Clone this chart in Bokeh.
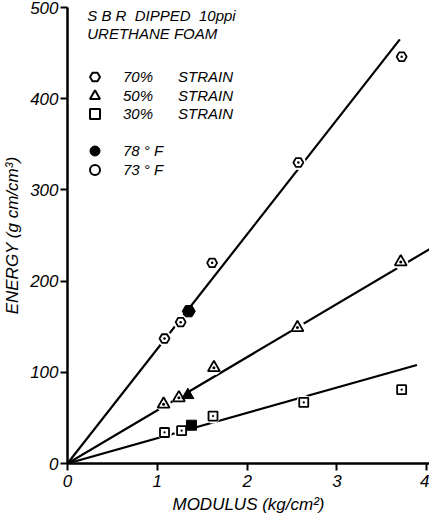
from bokeh.plotting import figure
from bokeh.models import Range1d, FixedTicker, Legend, LegendItem, Label
from bokeh.embed import file_html
from bokeh.resources import INLINE

# ---- data ----
modulus_70 = [1.08, 1.26, 1.61, 2.57, 3.72]
energy_70 = [137, 155, 220, 330, 446]
modulus_50 = [1.07, 1.24, 1.63, 2.56, 3.71]
energy_50 = [65, 72, 105, 149, 221]
modulus_30 = [1.08, 1.27, 1.62, 2.63, 3.72]
energy_30 = [34, 36, 52, 67, 81]
# 78 F points (filled): 70 %, 50 %, 30 % strain
modulus_78 = [1.35, 1.34, 1.38]
energy_78 = [167, 75, 42]
# fitted straight lines through the origin
fit_x_70 = [0, 3.70]
fit_y_70 = [0, 465]
fit_x_50 = [0, 4.03]
fit_y_50 = [0, 235]
fit_x_30 = [0, 3.89]
fit_y_30 = [0, 108]
x_ticks = [0, 1, 2, 3, 4]
y_ticks = [0, 100, 200, 300, 400, 500]

FONT = "Liberation Sans"

p = figure(width=429, height=522, x_range=Range1d(0, 4.03), y_range=Range1d(0, 500),
           output_backend="svg", toolbar_location=None,
           min_border_left=64, min_border_right=0, min_border_top=7, min_border_bottom=59)
p.outline_line_color = None
p.grid.visible = False
p.background_fill_color = "white"
p.border_fill_color = "white"

for ax in (p.xaxis[0], p.yaxis[0]):
    ax.axis_line_width = 2.5
    ax.major_tick_line_width = 2
    ax.major_tick_in = 0
    ax.major_tick_out = 7
    ax.minor_tick_line_color = None
    ax.major_label_text_font = FONT
    ax.major_label_text_font_style = "italic"
    ax.major_label_text_font_size = "17px"
    ax.major_label_text_color = "black"
    ax.axis_label_text_font = FONT
    ax.axis_label_text_font_style = "italic"
    ax.axis_label_text_font_size = "17px"
    ax.axis_label_text_color = "black"

p.xaxis.ticker = FixedTicker(ticks=x_ticks)
p.yaxis.ticker = FixedTicker(ticks=y_ticks)
p.xaxis.axis_label = "MODULUS (kg/cm\u00b2)"
p.yaxis.axis_label = "ENERGY (g cm/cm\u00b3)"
p.xaxis.major_label_standoff = 4
p.yaxis.major_label_standoff = 2
p.xaxis.axis_label_standoff = 5
p.yaxis.axis_label_standoff = 5

# fitted lines
for fx, fy in ((fit_x_70, fit_y_70), (fit_x_50, fit_y_50), (fit_x_30, fit_y_30)):
    p.line(fx, fy, line_color="black", line_width=2.2)

# white halos to break lines around markers
for mx, my in ((modulus_70, energy_70), (modulus_50, energy_50), (modulus_30, energy_30)):
    p.scatter(mx, my, marker="circle", size=15, fill_color="white", line_color=None)

p.scatter(modulus_70, energy_70, marker="hex_dot", size=10, fill_color="white",
          line_color="black", line_width=1.8)
p.scatter(modulus_50, energy_50, marker="triangle_dot", size=12, fill_color="white",
          line_color="black", line_width=1.8)
p.scatter(modulus_30, energy_30, marker="square_dot", size=9, fill_color="white",
          line_color="black", line_width=1.8)
p.scatter(modulus_78[:1], energy_78[:1], marker="hex", size=13, fill_color="black", line_color="black")
p.scatter(modulus_78[1:2], energy_78[1:2], marker="triangle", size=12, fill_color="black", line_color="black")
p.scatter(modulus_78[2:], energy_78[2:], marker="square", size=10, fill_color="black", line_color="black")

# legend keys (hidden renderers, drawn only in the legend)
kw = dict(fill_color="white", line_color="black", line_width=2, visible=False)
r_hex = p.scatter(modulus_70[:1], energy_70[:1], marker="hex", size=10, **kw)
r_tri = p.scatter(modulus_50[:1], energy_50[:1], marker="triangle", size=10, **kw)
r_sq = p.scatter(modulus_30[:1], energy_30[:1], marker="square", size=8, **kw)
r_fill = p.scatter(modulus_78[:1], energy_78[:1], marker="circle", size=12,
                   fill_color="black", line_color="black", visible=False)
r_open = p.scatter(modulus_70[:1], energy_70[:1], marker="circle", size=9, **kw)

gap = "\u00a0" * 6
legend_rows = [
    ("70%" + gap + "STRAIN", r_hex, 374),
    ("50%" + gap + "STRAIN", r_tri, 355),
    ("30%" + gap + "STRAIN", r_sq, 337),
    ("78\u00a0\u00b0\u00a0F", r_fill, 300),
    ("73\u00a0\u00b0\u00a0F", r_open, 281),
]
for text, rend, off in legend_rows:
    lg = Legend(items=[LegendItem(label=text, renderers=[rend])], location=(15, off),
                padding=0, margin=0, spacing=0,
                glyph_height=25, glyph_width=25, label_height=14, label_standoff=16,
                label_text_font=FONT, label_text_font_style="italic",
                label_text_font_size="15px", label_text_color="black",
                background_fill_alpha=0, border_line_alpha=0, click_policy="none")
    p.add_layout(lg, "center")

sp = "\u00a0" * 2
p.add_layout(Label(x=0.22, y=491, text="S B R" + sp + "DIPPED" + sp + "10ppi", text_baseline="middle",
                   text_font=FONT, text_font_style="italic", text_font_size="15px",
                   text_color="black"))
p.add_layout(Label(x=0.22, y=472, text="URETHANE FOAM", text_baseline="middle",
                   text_font=FONT, text_font_style="italic", text_font_size="15px",
                   text_color="black"))

open("out.html", "w").write(file_html(p, INLINE))
